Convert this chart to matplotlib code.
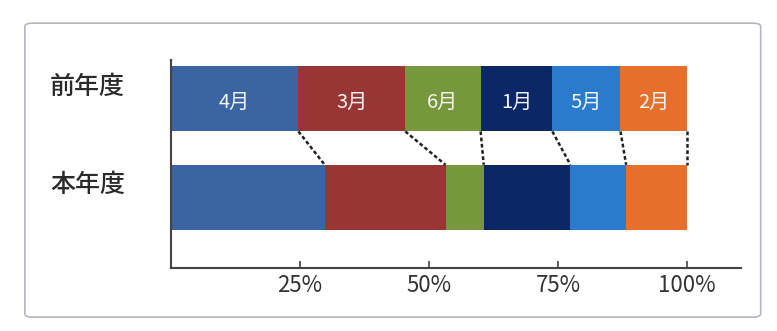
import matplotlib.pyplot as plt
import numpy as np
from matplotlib.patches import FancyBboxPatch

plt.rcParams['font.family'] = ['Noto Sans CJK JP', 'DejaVu Sans']

rows = ['本年度', '前年度']
months = ['4月', '3月', '6月', '1月', '5月', '2月']
prev_share = [24.7, 20.7, 14.6, 13.9, 13.2, 12.9]
curr_share = [29.8, 23.4, 7.4, 16.8, 10.8, 11.8]
colors = ['#3a65a2', '#983634', '#76973c', '#0c2766', '#2a7bcb', '#e6702b']
ticks = [25, 50, 75, 100]
tick_labels = ['25%', '50%', '75%', '100%']

fig = plt.figure(figsize=(7.77, 3.31), dpi=100)
fig.patches.append(FancyBboxPatch((0.032, 0.042), 0.947, 0.888, boxstyle='round,pad=0,rounding_size=0.01',
                                  transform=fig.transFigure, fill=False, ec='#b4b6c0', lw=1.2))
ax = fig.add_axes([0.22, 0.19, 0.734, 0.63])

h = 0.66
left_prev = 0
left_curr = 0
for m, p, c, col in zip(months, prev_share, curr_share, colors):
    ax.barh(1, p, left=left_prev, height=h, color=col)
    ax.barh(0, c, left=left_curr, height=h, color=col)
    ax.text(left_prev + p / 2, 0.96, m, color='#f4f4f4', ha='center', va='center', fontsize=14.5)
    left_prev += p
    left_curr += c
    ax.plot([left_prev, left_curr], [1 - h / 2, h / 2], ls=(0, (1.5, 1)), color='#222222', lw=1.8)

# row labels sit a little above the bar centres
for i, r in enumerate(rows):
    ax.annotate(r, xy=(0, i), xycoords=('axes fraction', 'data'), xytext=(-33, 9),
                textcoords='offset points', ha='right', va='center',
                fontsize=18, fontweight='medium', color='#2a2a2a')

ax.set_xlim(0, 110.5)
ax.set_ylim(-0.72, 1.40)
ax.set_yticks([])
ax.set_xticks(ticks)
ax.set_xticklabels(tick_labels, fontsize=16, color='#333333')
ax.tick_params(axis='x', direction='in', length=5, width=1.2, color='#444444', pad=4)
for s in ['top', 'right']:
    ax.spines[s].set_visible(False)
for s in ['left', 'bottom']:
    ax.spines[s].set_color('#444444')
    ax.spines[s].set_linewidth(1.5)

fig.savefig('out.png', dpi=100)
